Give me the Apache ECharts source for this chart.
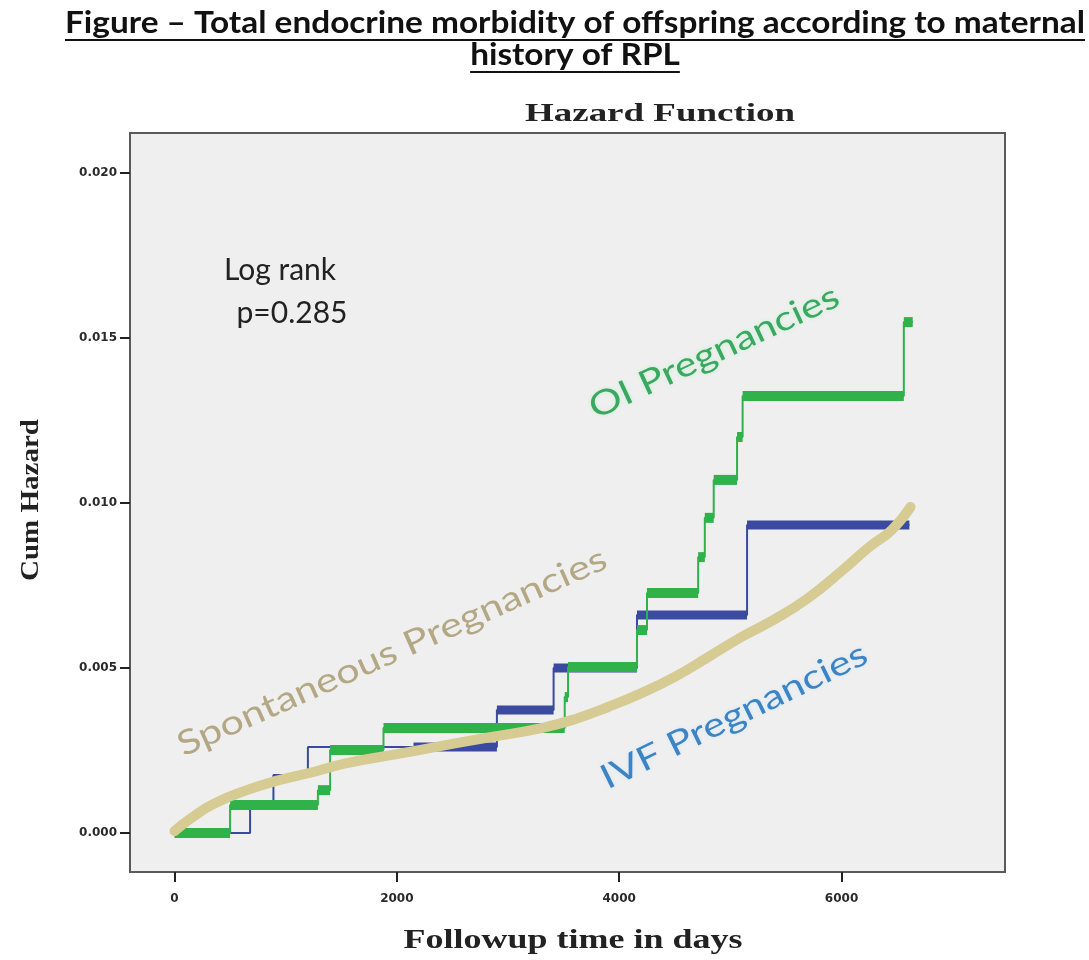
<!DOCTYPE html>
<html><head><meta charset="utf-8">
<script src="https://cdn.jsdelivr.net/npm/echarts@6/dist/echarts.min.js"></script>
<style>html,body{margin:0;padding:0;background:#fff}#c{width:1089px;height:960px}</style>
</head><body><div id="c"></div>
<script>
// ---------- DATA ----------
const xTicks = [0, 2000, 4000, 6000];
const yTicks = [0, 0.005, 0.010, 0.015, 0.020];

// Spontaneous pregnancies (smooth cumulative hazard)
const spontDays = [0,150,350,650,950,1250,1550,2000,2450,2850,3300,3600,3900,4200,4500,4800,5100,5400,5700,6000,6250,6450,6620];
const spontHaz  = [0.00006,0.00045,0.00088,0.00130,0.00161,0.00185,0.00212,0.00239,0.00267,0.00291,0.00318,0.00345,0.00382,0.00424,0.00473,0.00533,0.00594,0.00648,0.00712,0.00794,0.00867,0.00918,0.00988];

// OI pregnancies (step function)
const oiDays = [0,500,1290,1400,1880,3510,3540,4160,4250,4710,4770,4850,5060,5110,6560];
const oiHaz  = [0,0.00085,0.0013,0.00252,0.00318,0.00412,0.00503,0.00615,0.00727,0.00836,0.00955,0.0107,0.0120,0.01324,0.01548];
const oiEnd = 6640;

// IVF pregnancies (step function)
const ivfDays = [0,680,890,1200,2900,3410,4160,5150];
const ivfHaz  = [0,0.00085,0.00176,0.00261,0.00373,0.00500,0.00661,0.00933];
const ivfEnd = 6610;
// IVF dense-censoring stretches (from, to) in days
const ivfCensFrom = [2150,2900,3410,4160,5150];
const ivfCensTo   = [2900,3410,4160,5150,6610];

// ---------- BUILD ----------
function stepData(days, haz, end){
  const d = days.map((t,i)=>[t, haz[i]]);
  d.push([end, haz[haz.length-1]]);
  return d;
}
function levelAt(days, haz, t){
  let v = haz[0];
  for (let i=0;i<days.length;i++) if (days[i] <= t) v = haz[i];
  return v;
}
const oiBands = oiDays.map((t,i)=>[t, i+1<oiDays.length?oiDays[i+1]:oiEnd, oiHaz[i]]);
const ivfBands = ivfCensFrom.map((f,i)=>[f, ivfCensTo[i], levelAt(ivfDays, ivfHaz, f)]);

function bandRender(thick, color){
  return function(params, api){
    const a = api.coord([api.value(0), api.value(2)]);
    const b = api.coord([api.value(1), api.value(2)]);
    return {type:'rect', shape:{x:a[0], y:a[1]-thick/2, width:Math.max(1,b[0]-a[0]), height:thick}, style:{fill:color}};
  };
}

function measure(text, font){
  const c = document.createElement('canvas').getContext('2d');
  c.font = font; return c.measureText(text).width;
}
function label(text, cx, cy, font, fill, targetW, rotDeg, extra){
  const s = targetW ? targetW / measure(text, font) : 1;
  return {
    type:'text', x:cx, y:cy, rotation:(rotDeg||0)*Math.PI/180, scaleX:s, scaleY:1, z:100,
    style:Object.assign({text, font, fill, align:'center', verticalAlign:'middle',
      textAlign:'center', textVerticalAlign:'middle'}, (extra||{}))
  };
}

const GREEN = '#2fb24a', BLUE = '#3a4aa0', TAN = '#d5cb93';

const titleFont = 'bold 31px Lato';
const t1 = 'Figure – Total endocrine morbidity of offspring according to maternal';
const t2 = 'history of RPL';
const tScale = 1020 / measure(t1, titleFont);
const t2w = measure(t2, titleFont) * tScale;

const chart = echarts.init(document.getElementById('c'));
chart.setOption({
  animation:false,
  backgroundColor:'#ffffff',
  grid:{left:130, top:133, right:84, bottom:88, show:true, backgroundColor:'#efefef', borderColor:'#5a5a5a', borderWidth:2},
  xAxis:{
    type:'value', min:-400, max:7470,
    axisLine:{show:false, onZero:false}, splitLine:{show:false},
    axisTick:{show:true, customValues:xTicks, length:10, lineStyle:{color:'#222', width:2}},
    axisLabel:{customValues:xTicks, formatter:v=>String(v), fontFamily:'DejaVu Sans', fontWeight:'bold', fontSize:12, color:'#2a2a2a', margin:21}
  },
  yAxis:{
    type:'value', min:-0.00118, max:0.02121,
    axisLine:{show:false, onZero:false}, splitLine:{show:false},
    axisTick:{show:true, customValues:yTicks, length:10, lineStyle:{color:'#222', width:2}},
    axisLabel:{customValues:yTicks, formatter:v=>v.toFixed(3), fontFamily:'DejaVu Sans', fontWeight:'bold', fontSize:12, color:'#2a2a2a', margin:13}
  },
  series:[
    {type:'line', data:stepData(ivfDays, ivfHaz, ivfEnd), step:'end', showSymbol:false, lineStyle:{color:BLUE, width:2}, z:2},
    {type:'custom', data:ivfBands, renderItem:bandRender(9, BLUE), encode:{x:[0,1], y:2}, z:3},
    {type:'line', data:stepData(oiDays, oiHaz, oiEnd), step:'end', showSymbol:false, lineStyle:{color:GREEN, width:2}, z:4},
    {type:'custom', data:oiBands, renderItem:bandRender(10, GREEN), encode:{x:[0,1], y:2}, z:5},
    {type:'line', data:spontDays.map((t,i)=>[t, spontHaz[i]]), smooth:true, showSymbol:false, lineStyle:{color:TAN, width:10, cap:'round'}, z:6}
  ],
  graphic:[
    {type:'text', x:575, y:23, scaleX:tScale, z:100, style:{text:t1, font:titleFont, fill:'#111', align:'center', verticalAlign:'middle', textAlign:'center', textVerticalAlign:'middle'}},
    {type:'line', shape:{x1:65, y1:40, x2:1085, y2:40}, style:{stroke:'#111', lineWidth:2}, z:100},
    {type:'text', x:575, y:55, scaleX:tScale, z:100, style:{text:t2, font:titleFont, fill:'#111', align:'center', verticalAlign:'middle', textAlign:'center', textVerticalAlign:'middle'}},
    {type:'line', shape:{x1:575-t2w/2, y1:72, x2:575+t2w/2, y2:72}, style:{stroke:'#111', lineWidth:2}, z:100},
    label('Hazard Function', 660, 115, 'bold 25px "Liberation Serif"', '#222', 270, 0),
    label('Followup time in days', 573, 941, 'bold 28px "Liberation Serif"', '#222', 339, 0),
    label('Cum Hazard', 32, 500, 'bold 25px "Liberation Serif"', '#222', 162, 90),
    label('Log rank', 280, 270, '30px Lato', '#222', 0, 0),
    label('p=0.285', 292, 313, '30px Lato', '#222', 0, 0),
    label('OI Pregnancies', 714, 352, '34px Lato', '#3aa860', 272, 25, {textShadowColor:'#c4f2d0', textShadowBlur:4}),
    label('Spontaneous Pregnancies', 392, 652, '34px Lato', '#b3a784', 466, 24),
    label('IVF Pregnancies', 734, 716, '34px Lato', '#3d84c4', 292, 26, {textShadowColor:'#d4e8fa', textShadowBlur:4})
  ]
});
</script>
</body></html>
